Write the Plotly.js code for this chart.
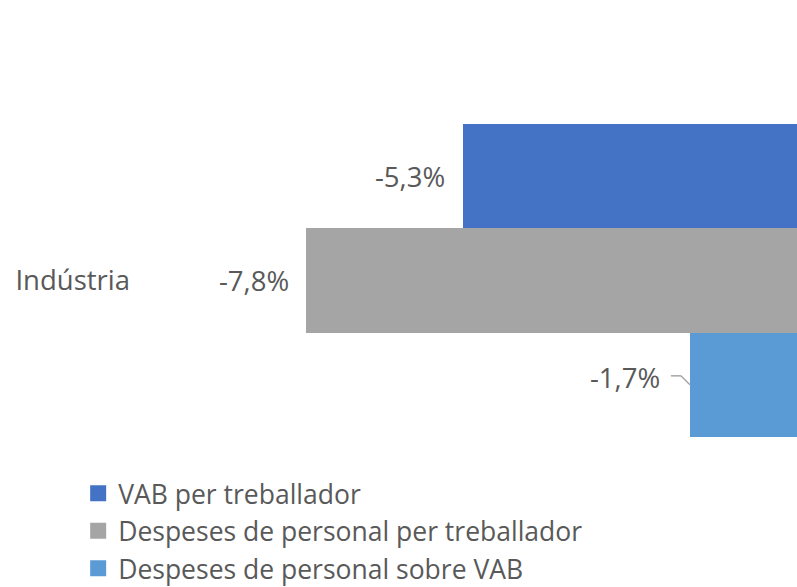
<!DOCTYPE html>
<html>
<head>
<meta charset="utf-8">
<script src="https://cdn.plot.ly/plotly-3.0.1.min.js"></script>
<style>html,body{margin:0;padding:0;background:#fff;}#chart{width:797px;height:587px;}</style>
</head>
<body>
<div id="chart"></div>
<script>
const categories = ['Indústria'];
const seriesNames = ['VAB per treballador', 'Despeses de personal per treballador', 'Despeses de personal sobre VAB'];
const vabPerTreballador = [-5.3];
const despesesPerTreballador = [-7.8];
const despesesSobreVAB = [-1.7];
const seriesValues = [vabPerTreballador, despesesPerTreballador, despesesSobreVAB];

const colors = ['#4472C4', '#A5A5A5', '#5B9BD5'];
const labelShift = [[-16, 0], [-15, 0], [-28, 7]];
const FONT = '"Open Sans", sans-serif';
const FS = 27.5;
const LFS = 26.5;
const TXT = '#595959';

const fmt = v => v.toFixed(1).replace('.', ',') + '%';

const traces = [];
seriesValues.forEach((vals, i) => {
  traces.push({
    type: 'bar', orientation: 'h', name: seriesNames[i],
    x: vals, y: categories, marker: {color: colors[i]},
    showlegend: false, hoverinfo: 'x+name'
  });
});
seriesValues.forEach((vals, i) => {
  traces.push({
    type: 'scatter', mode: 'markers', name: seriesNames[i],
    x: [null], y: [null], legendgroup: 'g' + i,
    marker: {symbol: 'square', size: 18, color: colors[i], line: {width: 0}},
    hoverinfo: 'skip'
  });
});

const n = seriesValues.length;
const annotations = [];
seriesValues.forEach((vals, i) => {
  vals.forEach((v, j) => {
    annotations.push({
      x: v, y: j - 0.5 + (i + 0.5) / n, xref: 'x', yref: 'y',
      text: fmt(v), showarrow: false, xanchor: 'right', yanchor: 'middle',
      xshift: labelShift[i][0], yshift: labelShift[i][1],
      font: {family: FONT, size: FS, color: TXT}
    });
  });
});

// leader line for the last label
const lastVal = despesesSobreVAB[0];
const lastY = 0 - 0.5 + (n - 0.5) / n;
const shapes = [
  {type: 'line', xref: 'x', yref: 'y', xsizemode: 'pixel', ysizemode: 'pixel',
   xanchor: lastVal, yanchor: lastY, x0: -19, x1: -9, y0: 9, y1: 9,
   line: {color: '#A6A6A6', width: 1.5}},
  {type: 'line', xref: 'x', yref: 'y', xsizemode: 'pixel', ysizemode: 'pixel',
   xanchor: lastVal, yanchor: lastY, x0: -9, x1: 0, y0: 9, y1: 0,
   line: {color: '#A6A6A6', width: 1.5}}
];

const layout = {
  width: 797, height: 587,
  margin: {l: 167, r: 0, t: 124, b: 150, pad: 0, autoexpand: false},
  paper_bgcolor: '#fff', plot_bgcolor: '#fff',
  barmode: 'group', bargap: 0, bargroupgap: 0,
  font: {family: FONT, size: FS, color: TXT},
  xaxis: {range: [-10, 0], showgrid: false, zeroline: false, showticklabels: false, showline: false, fixedrange: true},
  yaxis: {type: 'category', range: [0.5, -0.5], showgrid: false, zeroline: false, showline: false,
          ticks: '', ticklabelstandoff: 36, tickfont: {family: FONT, size: FS, color: TXT}},
  showlegend: true,
  legend: {x: -0.141, xanchor: 'left', y: -0.104, yanchor: 'top', orientation: 'v',
           font: {family: FONT, size: LFS, color: TXT}, tracegroupgap: 0, bgcolor: 'rgba(0,0,0,0)'},
  annotations: annotations,
  shapes: shapes
};

Plotly.newPlot('chart', traces, layout, {displayModeBar: false, staticPlot: true});
</script>
</body>
</html>
